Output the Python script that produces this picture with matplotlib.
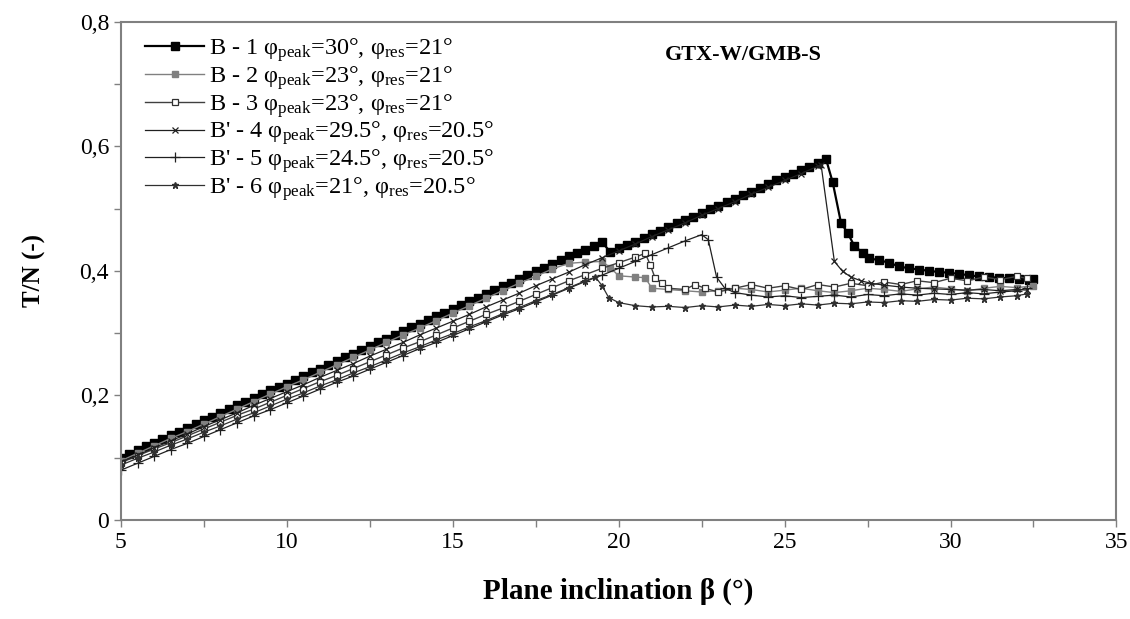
import numpy as np
import matplotlib.pyplot as plt
from matplotlib.ticker import MultipleLocator

plt.rcParams['font.family'] = ['Liberation Serif', 'DejaVu Serif']
plt.rcParams['mathtext.fontset'] = 'custom'
plt.rcParams['mathtext.rm'] = 'Liberation Serif'
plt.rcParams['mathtext.it'] = 'Liberation Serif:italic'
plt.rcParams['mathtext.bf'] = 'Liberation Serif:bold'

# B - 1 (0.25 deg steps on the rising part)
b1_x = list(np.arange(5.0, 26.26, 0.25)) + [26.45, 26.7, 26.9, 27.1, 27.35, 27.55, 27.85, 28.15, 28.45,
                                             28.75, 29.05, 29.35, 29.65, 29.95, 30.25, 30.55, 30.85, 31.15,
                                             31.45, 31.75, 32.05, 32.35, 32.5]
b1_y = [0.100, 0.106, 0.112, 0.118, 0.124, 0.130, 0.136, 0.142, 0.148, 0.154, 0.160, 0.166, 0.172, 0.178,
        0.184, 0.190, 0.196, 0.202, 0.208, 0.213, 0.219, 0.225, 0.231, 0.237, 0.243, 0.249, 0.255, 0.261,
        0.267, 0.273, 0.279, 0.285, 0.291, 0.297, 0.303, 0.309, 0.315, 0.321, 0.327, 0.333, 0.339, 0.345,
        0.351, 0.357, 0.363, 0.369, 0.375, 0.381, 0.387, 0.393, 0.399, 0.405, 0.411, 0.417, 0.423, 0.429,
        0.434, 0.440, 0.446,
        0.430, 0.436, 0.441, 0.447, 0.453, 0.459, 0.464, 0.470, 0.476, 0.482, 0.487, 0.493, 0.499, 0.504,
        0.510, 0.516, 0.522, 0.527, 0.533, 0.539, 0.545, 0.550, 0.556, 0.562, 0.567, 0.573, 0.579,
        0.542, 0.477, 0.461, 0.440, 0.429, 0.420, 0.417, 0.413, 0.407, 0.404, 0.402, 0.400, 0.398, 0.397,
        0.395, 0.393, 0.391, 0.390, 0.389, 0.388, 0.387, 0.386, 0.387]

# B - 2
b2_x = list(np.arange(5.0, 19.51, 0.5)) + [19.75, 20.0, 20.5, 20.8, 21.0, 21.5, 22.0, 22.5, 23.0, 23.5, 24.0,
                                           24.5, 25.0, 25.5, 26.0, 26.5, 27.0, 27.5, 28.0, 28.5, 29.0, 29.5,
                                           30.0, 30.5, 31.0, 31.5, 32.0, 32.5]
b2_y = [0.095, 0.107, 0.119, 0.131, 0.142, 0.154, 0.166, 0.178, 0.190, 0.202, 0.214, 0.225, 0.237, 0.249,
        0.261, 0.273, 0.285, 0.297, 0.308, 0.320, 0.332, 0.344, 0.356, 0.368, 0.380, 0.391, 0.403, 0.412,
        0.414, 0.415,
        0.405, 0.392, 0.390, 0.389, 0.372, 0.370, 0.368, 0.366, 0.368, 0.372, 0.370, 0.366, 0.369, 0.372,
        0.368, 0.365, 0.368, 0.372, 0.370, 0.367, 0.371, 0.374, 0.371, 0.368, 0.372, 0.375, 0.373, 0.376]

# B - 3
b3_x = list(np.arange(5.0, 20.51, 0.5)) + [20.8, 20.95, 21.1, 21.3, 21.5, 22.0, 22.3, 22.6, 23.0, 23.5, 24.0,
                                           24.5, 25.0, 25.5, 26.0, 26.5, 27.0, 27.5, 28.0, 28.5, 29.0, 29.5,
                                           30.0, 30.5, 31.0, 31.5, 32.0, 32.3]
b3_y = [0.092, 0.103, 0.114, 0.124, 0.135, 0.146, 0.157, 0.168, 0.178, 0.189, 0.200, 0.211, 0.222, 0.232,
        0.243, 0.254, 0.265, 0.276, 0.286, 0.297, 0.308, 0.319, 0.330, 0.340, 0.351, 0.362, 0.373, 0.384,
        0.394, 0.404, 0.413, 0.422,
        0.428, 0.410, 0.388, 0.380, 0.372, 0.370, 0.378, 0.372, 0.366, 0.372, 0.378, 0.372, 0.376, 0.370,
        0.378, 0.374, 0.380, 0.376, 0.382, 0.378, 0.384, 0.381, 0.388, 0.384, 0.390, 0.386, 0.391, 0.388]

# B' - 4
b4_x = list(np.arange(5.0, 26.01, 0.5)) + [26.1, 26.5, 26.75, 27.0, 27.3, 27.6, 28.0, 28.5, 29.0, 29.5, 30.0,
                                           30.5, 31.0, 31.5, 32.0, 32.3]
b4_y = [0.093, 0.104, 0.116, 0.127, 0.138, 0.150, 0.161, 0.172, 0.184, 0.195, 0.206, 0.217, 0.229, 0.240,
        0.251, 0.263, 0.274, 0.285, 0.297, 0.308, 0.319, 0.330, 0.342, 0.353, 0.364, 0.376, 0.387, 0.398,
        0.410, 0.421, 0.432, 0.443, 0.455, 0.466, 0.477, 0.489, 0.500, 0.511, 0.523, 0.534, 0.545, 0.556,
        0.568,
        0.570, 0.415, 0.399, 0.390, 0.384, 0.380, 0.377, 0.374, 0.372, 0.371, 0.370, 0.369, 0.370, 0.368,
        0.370, 0.369]

# B' - 5
b5_x = list(np.arange(5.0, 22.51, 0.5)) + [22.7, 22.95, 23.2, 23.5, 24.0, 24.5, 25.0, 25.5, 26.0, 26.5, 27.0,
                                           27.5, 28.0, 28.5, 29.0, 29.5, 30.0, 30.5, 31.0, 31.5, 32.0, 32.3]
b5_y = [0.080, 0.091, 0.102, 0.113, 0.123, 0.134, 0.145, 0.156, 0.167, 0.177, 0.188, 0.199, 0.210, 0.221,
        0.231, 0.242, 0.253, 0.264, 0.275, 0.285, 0.296, 0.307, 0.318, 0.329, 0.339, 0.350, 0.361, 0.372,
        0.383, 0.393, 0.404, 0.415, 0.426, 0.437, 0.448, 0.458,
        0.450, 0.390, 0.372, 0.365, 0.361, 0.358, 0.360, 0.357, 0.359, 0.361, 0.358, 0.362, 0.360, 0.363,
        0.361, 0.364, 0.362, 0.365, 0.363, 0.366, 0.368, 0.372]

# B' - 6
b6_x = list(np.arange(5.0, 19.01, 0.5)) + [19.3, 19.5, 19.7, 20.0, 20.5, 21.0, 21.5, 22.0, 22.5, 23.0, 23.5,
                                           24.0, 24.5, 25.0, 25.5, 26.0, 26.5, 27.0, 27.5, 28.0, 28.5, 29.0,
                                           29.5, 30.0, 30.5, 31.0, 31.5, 32.0, 32.3]
b6_y = [0.088, 0.099, 0.109, 0.120, 0.130, 0.141, 0.151, 0.162, 0.172, 0.183, 0.194, 0.204, 0.215, 0.225,
        0.236, 0.246, 0.257, 0.268, 0.278, 0.289, 0.299, 0.310, 0.320, 0.331, 0.341, 0.352, 0.362, 0.373,
        0.384,
        0.390, 0.376, 0.357, 0.349, 0.344, 0.342, 0.343, 0.341, 0.344, 0.342, 0.345, 0.343, 0.346, 0.344,
        0.347, 0.345, 0.348, 0.347, 0.350, 0.349, 0.352, 0.351, 0.354, 0.353, 0.356, 0.355, 0.358, 0.360,
        0.363]

labels = ["B - 1 φ$_{\\mathrm{peak}}$=30°, φ$_{\\mathrm{res}}$=21°",
          "B - 2 φ$_{\\mathrm{peak}}$=23°, φ$_{\\mathrm{res}}$=21°",
          "B - 3 φ$_{\\mathrm{peak}}$=23°, φ$_{\\mathrm{res}}$=21°",
          "B' - 4 φ$_{\\mathrm{peak}}$=29.5°, φ$_{\\mathrm{res}}$=20.5°",
          "B' - 5 φ$_{\\mathrm{peak}}$=24.5°, φ$_{\\mathrm{res}}$=20.5°",
          "B' - 6 φ$_{\\mathrm{peak}}$=21°, φ$_{\\mathrm{res}}$=20.5°"]
yticklabels = ['0', '0,2', '0,4', '0,6', '0,8']

fig = plt.figure(figsize=(11.3, 6.19), dpi=100)
ax = fig.add_axes([0.107, 0.160, 0.881, 0.805])

ax.plot(b1_x, b1_y, color='black', lw=1.6, marker='s', ms=6, label=labels[0])
ax.plot(b2_x, b2_y, color='#808080', lw=1.0, marker='s', ms=4.5, label=labels[1])
ax.plot(b3_x, b3_y, color='#404040', lw=1.0, marker='s', ms=5, mfc='white', mec='#303030', mew=0.9,
        label=labels[2])
ax.plot(b4_x, b4_y, color='#202020', lw=0.9, marker='x', ms=4.5, mew=0.9, label=labels[3])
ax.plot(b5_x, b5_y, color='#202020', lw=0.9, marker='+', ms=7, mew=0.9, label=labels[4])
ax.plot(b6_x, b6_y, color='#303030', lw=0.9, marker='*', ms=4.5, label=labels[5])

ax.set_xlim(5, 35)
ax.set_ylim(0, 0.8)
ax.xaxis.set_major_locator(MultipleLocator(5))
ax.xaxis.set_minor_locator(MultipleLocator(2.5))
ax.set_yticks([0, 0.2, 0.4, 0.6, 0.8])
ax.set_yticklabels(yticklabels)
ax.yaxis.set_minor_locator(MultipleLocator(0.1))
ax.tick_params(which='both', direction='out', length=5, width=1, color='#808080', labelsize=17)
for s in ax.spines.values():
    s.set_color('#808080')
    s.set_linewidth(1.5)

ax.set_xlabel('Plane inclination β (°)', fontsize=21, fontweight='bold', labelpad=18)
ax.set_ylabel('T/N (-)', fontsize=18, fontweight='bold', labelpad=24)
ax.text(23.75, 0.747, 'GTX-W/GMB-S', fontsize=16, fontweight='bold', ha='center', va='center')

ax.legend(loc='upper left', bbox_to_anchor=(0.01, 1.0), frameon=False, fontsize=17.5,
          handlelength=2.4, handletextpad=0.2, labelspacing=0.0, borderaxespad=0.2)

fig.savefig('out.png', dpi=100)
